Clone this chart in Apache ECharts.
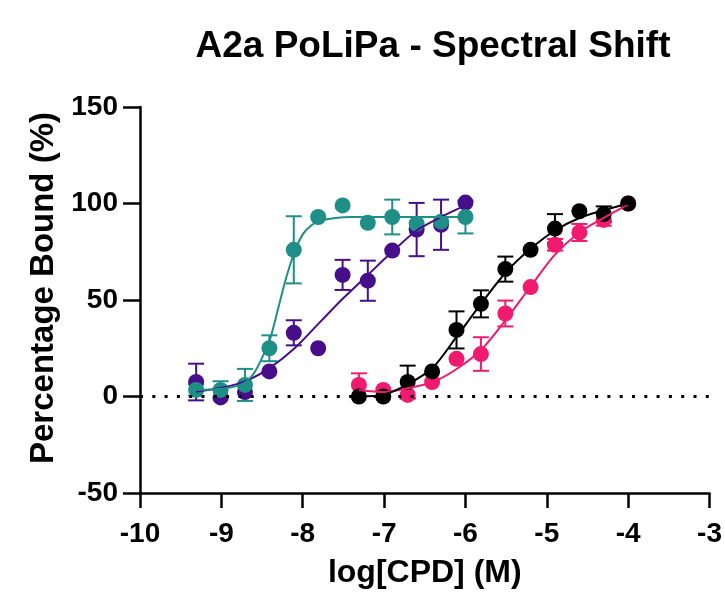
<!DOCTYPE html>
<html>
<head>
<meta charset="utf-8">
<script src="https://cdn.jsdelivr.net/npm/echarts@6/dist/echarts.min.js"></script>
<style>
html,body{margin:0;padding:0;background:#fff;}
#chart{width:725px;height:594px;}
</style>
</head>
<body>
<div id="chart"></div>
<script>
// ---- Data (log[CPD] in M, percentage bound) ----
const xTicks = [-10, -9, -8, -7, -6, -5, -4, -3];
const yTicks = [-50, 0, 50, 100, 150];

// teal + purple compounds share concentrations
const concHigh = [-9.31, -9.01, -8.71, -8.41, -8.11, -7.81, -7.51, -7.2, -6.9, -6.6, -6.3, -6.0];
const tealY    = [3.4, 3.4, 6, 25, 76, 93, 99, 90, 93, 89.5, 90.6, 93];
const tealErr  = [3, 4.5, 8.3, 6.7, 17.4, 0, 0, 0, 9, 0, 0, 8.5];
const purpleY  = [7.5, -0.5, 2.3, 13, 33, 25, 63, 60, 75.6, 86.5, 89, 100.5];
const purpleErr= [9.5, 0, 0, 0, 6.5, 0, 7.8, 10.4, 0, 13.8, 13, 0];

// black + pink compounds share concentrations
const concLow  = [-7.31, -7.01, -6.71, -6.41, -6.11, -5.81, -5.51, -5.2, -4.9, -4.6, -4.3, -4.0];
const blackY   = [0, 0, 7.5, 13, 34.5, 48, 66, 76, 87, 96, 94.5, 100];
const blackErr = [0, 0, 8.5, 0, 9.6, 7, 6.5, 0, 7.5, 0, 4, 0];
const pinkY    = [6, 3.4, 0.8, 7.5, 19.5, 22, 43, 56.7, 78.6, 85, 91.5, 100];
const pinkErr  = [6, 0, 0, 0, 0, 8.7, 6.7, 0, 3, 4.4, 3, 0];

// fitted curves
const tealCurveX   = [-9.31, -9.0, -8.8, -8.7, -8.6, -8.5, -8.4, -8.3, -8.2, -8.1, -8.0, -7.9, -7.8, -7.6, -7.4, -7.0, -6.5, -6.0];
const tealCurveY   = [3.4, 4.0, 5.5, 7.5, 12, 20, 30, 46, 62, 75, 84, 88.5, 91, 92.5, 93, 93, 93, 93];
const purpleCurveX = [-9.31, -9.0, -8.7, -8.4, -8.1, -7.8, -7.5, -7.2, -6.9, -6.6, -6.3, -6.0];
const purpleCurveY = [2.5, 4.5, 8, 15, 25, 38, 51, 63, 75, 86, 93, 99];
const blackCurveX  = [-7.31, -7.0, -6.7, -6.4, -6.1, -5.8, -5.5, -5.2, -4.9, -4.6, -4.3, -4.0];
const blackCurveY  = [0, 1, 6.5, 15, 31.5, 48.5, 64.5, 76.5, 86, 92.5, 96.5, 100];
const pinkCurveX   = [-7.31, -7.0, -6.7, -6.4, -6.1, -5.8, -5.5, -5.2, -4.9, -4.6, -4.3, -4.0];
const pinkCurveY   = [3.4, 2.3, 4.4, 7.5, 14.5, 24.5, 40, 57, 73.5, 85, 92.5, 99.5];

const colors = {teal: '#1d8f87', purple: '#470e8c', black: '#000000', pink: '#f01a6e'};
const FONT = '"Liberation Sans", Arial, Helvetica, sans-serif';

function zip(xs, ys) { return xs.map((x, i) => [x, ys[i]]); }
function zipErr(xs, ys, es) {
  return xs.map((x, i) => [x, ys[i], es[i]]).filter(d => d[2] > 0);
}

function errSeries(name, xs, ys, es, color) {
  return {
    type: 'custom', name: name + ' err',
    data: zipErr(xs, ys, es),
    encode: {x: 0, y: 1},
    silent: true,
    renderItem: function (params, api) {
      const x = api.value(0), y = api.value(1), e = api.value(2);
      const t = api.coord([x, y + e]);
      const b = api.coord([x, y - e]);
      const hw = 8;
      const st = {stroke: color, lineWidth: 2};
      return {type: 'group', children: [
        {type: 'line', shape: {x1: t[0], y1: t[1], x2: b[0], y2: b[1]}, style: st},
        {type: 'line', shape: {x1: t[0] - hw, y1: t[1], x2: t[0] + hw, y2: t[1]}, style: st},
        {type: 'line', shape: {x1: b[0] - hw, y1: b[1], x2: b[0] + hw, y2: b[1]}, style: st}
      ]};
    }
  };
}
function curveSeries(name, xs, ys, color) {
  return {
    type: 'line', name: name + ' fit', data: zip(xs, ys),
    showSymbol: false, smooth: 0.3, silent: true,
    lineStyle: {color: color, width: 2}
  };
}
function pointSeries(name, xs, ys, color) {
  return {
    type: 'scatter', name: name, data: zip(xs, ys),
    symbol: 'circle', symbolSize: 16, silent: true,
    itemStyle: {color: color, opacity: 1}
  };
}

const series = [];
[['purple', concHigh, purpleY, purpleErr, purpleCurveX, purpleCurveY],
 ['teal', concHigh, tealY, tealErr, tealCurveX, tealCurveY],
 ['pink', concLow, pinkY, pinkErr, pinkCurveX, pinkCurveY],
 ['black', concLow, blackY, blackErr, blackCurveX, blackCurveY]].forEach(s => {
  const c = colors[s[0]];
  series.push(curveSeries(s[0], s[4], s[5], c));
  series.push(errSeries(s[0], s[1], s[2], s[3], c));
  series.push(pointSeries(s[0], s[1], s[2], c));
});
// dotted zero line
series.unshift({
  type: 'line', data: [], silent: true,
  markLine: {
    silent: true, symbol: 'none', label: {show: false},
    lineStyle: {color: '#000', width: 3, type: [3, 9.3]},
    data: [[{coord: [xTicks[0], 0]}, {coord: [xTicks[xTicks.length - 1], 0]}]]
  }
});

const chart = echarts.init(document.getElementById('chart'), null, {renderer: 'canvas'});
chart.setOption({
  animation: false,
  backgroundColor: '#fff',
  title: {
    text: 'A2a PoLiPa - Spectral Shift',
    left: 428, top: 23, textAlign: 'center',
    textStyle: {fontFamily: FONT, fontWeight: 'bold', fontSize: 37, color: '#000'}
  },
  grid: {left: 140, right: 9, top: 107, bottom: 101},
  xAxis: {
    type: 'value', min: xTicks[0], max: xTicks[xTicks.length - 1], interval: 1,
    name: 'log[CPD] (M)', nameLocation: 'middle', nameGap: 64,
    nameTextStyle: {fontFamily: FONT, fontWeight: 'bold', fontSize: 32, color: '#000'},
    axisLine: {onZero: false, lineStyle: {color: '#000', width: 2.5}},
    axisTick: {show: true, length: 15, lineStyle: {color: '#000', width: 2.5}},
    axisLabel: {fontFamily: FONT, fontWeight: 'bold', fontSize: 28, color: '#000', margin: 27},
    splitLine: {show: false}
  },
  yAxis: {
    type: 'value', min: yTicks[0], max: yTicks[yTicks.length - 1], interval: 50,
    name: 'Percentage Bound (%)', nameLocation: 'middle', nameGap: 80,
    nameTextStyle: {fontFamily: FONT, fontWeight: 'bold', fontSize: 33, color: '#000', padding: [0, 0, 0, 24]},
    axisLine: {show: true, lineStyle: {color: '#000', width: 2.5}},
    axisTick: {show: true, length: 17, lineStyle: {color: '#000', width: 2.5}},
    axisLabel: {fontFamily: FONT, fontWeight: 'bold', fontSize: 28, color: '#000', margin: 22},
    splitLine: {show: false}
  },
  series: series
});
</script>
</body>
</html>
